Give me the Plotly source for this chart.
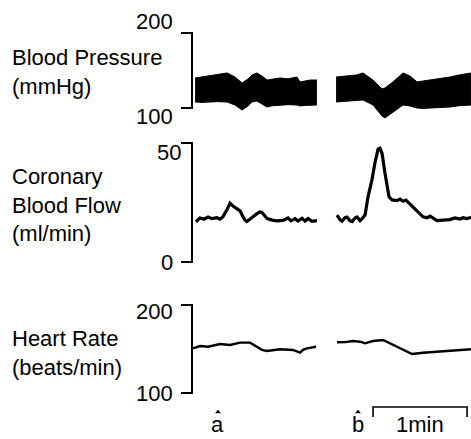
import plotly.graph_objects as go

W, H = 471, 439

# ---------------- data (time in seconds) ----------------
bp_t1 = [2.6, 7.0, 12.1, 17.0, 23.0, 28.1, 32.6, 36.4, 38.9, 42.1, 45.3, 48.5, 52.0, 56.8, 62.0, 67.7, 69.6, 73.0, 76.0, 80.4]
bp_hi1 = [140.0, 141.5, 142.7, 144.0, 146.7, 141.3, 133.3, 138.7, 144.0, 146.7, 142.7, 137.3, 138.5, 140.0, 139.0, 141.3, 134.7, 136.0, 137.3, 137.3]
bp_lo1 = [108.0, 107.5, 108.0, 108.5, 108.0, 104.0, 97.3, 102.7, 108.0, 109.3, 105.3, 101.3, 103.0, 104.0, 104.5, 104.0, 102.7, 103.5, 104.0, 104.0]

bp_t2 = [92.6, 97.0, 101.5, 105.5, 109.8, 116.2, 121.9, 123.8, 128.9, 135.3, 139.8, 144.3, 148.0, 152.6, 158.0, 165.3, 171.0, 178.7]
bp_hi2 = [141.3, 142.0, 142.7, 144.0, 146.7, 137.3, 125.3, 126.7, 134.7, 146.7, 142.7, 134.7, 136.0, 137.3, 139.5, 141.3, 144.0, 146.7]
bp_lo2 = [108.0, 108.5, 109.3, 110.0, 110.7, 104.0, 89.3, 86.7, 94.7, 104.0, 102.7, 100.0, 99.5, 100.0, 101.0, 101.3, 103.0, 104.0]

cbf_t1 = [3.2, 5.7, 8.3, 10.9, 13.4, 16.6, 18.5, 20.4, 23.0, 24.9, 26.8, 28.1, 30.0, 31.3, 33.2, 34.5, 35.7, 37.7, 39.6,
          42.1, 44.0, 45.3, 47.2, 48.5, 51.7, 54.9, 58.7, 61.9, 63.8, 66.4, 68.3, 70.9, 72.8, 74.7, 77.2, 80.4]
cbf_v1 = [16.9, 18.5, 18.0, 18.9, 18.2, 18.6, 18.0, 19.0, 22.0, 24.7, 23.5, 23.0, 22.2, 21.5, 19.0, 17.6, 17.0, 18.2, 19.0,
          20.3, 21.0, 20.8, 19.5, 18.3, 17.6, 17.3, 17.5, 18.5, 17.3, 18.2, 17.2, 18.4, 17.2, 18.3, 17.1, 17.4]

cbf_t2 = [93.2, 95.1, 96.4, 98.3, 99.6, 101.5, 102.8, 104.7, 106.0, 107.9, 109.1, 111.1, 113.0, 115.5, 117.4, 119.4, 120.6,
          121.9, 123.8, 126.4, 128.3, 131.5, 133.4, 135.3, 137.2, 139.8, 144.3, 148.1, 150.7, 152.6, 157.0, 162.1, 165.3,
          168.5, 171.7, 173.6, 176.2, 178.7]
cbf_v2 = [19.7, 17.8, 17.2, 18.6, 18.9, 17.3, 17.0, 18.5, 18.9, 17.4, 18.1, 19.7, 27.4, 34.5, 41.6, 47.4, 47.8,
          45.8, 37.4, 27.4, 26.1, 25.8, 26.4, 25.5, 26.0, 24.4, 21.8, 19.0, 18.6, 19.3, 17.4, 17.6, 17.8,
          18.5, 18.0, 18.6, 18.2, 18.8]

hr_t1 = [1.3, 5.7, 10.9, 14.7, 18.5, 24.9, 31.3, 37.7, 42.1, 45.3, 48.5, 56.8, 65.1, 69.6, 71.5, 74.0, 79.8]
hr_v1 = [150.8, 153.4, 152.6, 154.0, 155.7, 154.5, 157.2, 157.2, 152.6, 149.0, 147.7, 149.7, 148.9, 145.8, 149.0, 150.8, 152.6]

hr_t2 = [93.2, 98.3, 103.4, 107.9, 111.1, 116.2, 122.6, 128.9, 135.3, 141.1, 148.1, 160.9, 173.6, 178.7]
hr_v2 = [157.6, 157.8, 159.1, 158.3, 156.5, 159.1, 160.2, 154.5, 148.9, 144.3, 145.8, 147.7, 148.9, 149.7]

panel_titles = ["Blood Pressure<br>(mmHg)", "Coronary<br>Blood Flow<br>(ml/min)", "Heart Rate<br>(beats/min)"]
bp_ticks = [200, 100]
cbf_ticks = [50, 0]
hr_ticks = [200, 100]
event_labels = ["a", "b"]
event_times = [17.2, 106.6]
scale_bar = [116.2, 176.2]
scale_label = "1min"

# ---------------- figure ----------------
FONT = "Liberation Sans, Arial, Helvetica, sans-serif"
fig = go.Figure()

def band(t, lo, hi, xa, ya):
    fig.add_trace(go.Scatter(x=t, y=lo, mode="lines", line=dict(color="black", width=1),
                             xaxis=xa, yaxis=ya, hoverinfo="skip", showlegend=False))
    fig.add_trace(go.Scatter(x=t, y=hi, mode="lines", line=dict(color="black", width=1),
                             fill="tonexty", fillcolor="black",
                             xaxis=xa, yaxis=ya, hoverinfo="skip", showlegend=False))

band(bp_t1, bp_lo1, bp_hi1, "x", "y")
band(bp_t2, bp_lo2, bp_hi2, "x", "y")

for t, v in [(cbf_t1, cbf_v1), (cbf_t2, cbf_v2)]:
    fig.add_trace(go.Scatter(x=t, y=v, mode="lines", line=dict(color="black", width=3.2),
                             xaxis="x2", yaxis="y2", hoverinfo="skip", showlegend=False))
for t, v in [(hr_t1, hr_v1), (hr_t2, hr_v2)]:
    fig.add_trace(go.Scatter(x=t, y=v, mode="lines", line=dict(color="black", width=2.4),
                             xaxis="x3", yaxis="y3", hoverinfo="skip", showlegend=False))

def dom(top_px, bot_px):
    return [1 - bot_px / H, 1 - top_px / H]

def yrange(v_top, py_top, v_bot, py_bot, dtop, dbot):
    k = (v_top - v_bot) / (py_bot - py_top)  # units per px
    return [v_bot - (dbot - py_bot) * k, v_top + (py_top - dtop) * k]

x_left_px = 191
x_range = [0, (W - x_left_px) * 60 / 94]
xdom = [x_left_px / W, 1]

panels = [
    # (axis suffix, ticks, px top, px bottom, domain top, domain bottom)
    ("", bp_ticks, 33, 108, 10, 135),
    ("2", cbf_ticks, 143, 262, 135, 275),
    ("3", hr_ticks, 305, 393, 295, 425),
]

layout_axes = {}
for suf, ticks, pt, pb, dt, db in panels:
    layout_axes["xaxis" + suf] = dict(domain=xdom, range=x_range, visible=False, fixedrange=True)
    layout_axes["yaxis" + suf] = dict(domain=dom(dt, db), range=yrange(ticks[0], pt, ticks[1], pb, dt, db),
                                      visible=False, fixedrange=True)

# event markers (small arrowheads) below the heart-rate trace, placed via the HR axis scale
hr_k = (hr_ticks[0] - hr_ticks[1]) / (393 - 305)
marker_val = hr_ticks[1] - (412 - 393) * hr_k
fig.add_trace(go.Scatter(x=event_times, y=[marker_val] * len(event_times), mode="markers",
                         marker=dict(symbol="triangle-up", size=5, color="black"),
                         cliponaxis=False, xaxis="x3", yaxis="y3", hoverinfo="skip", showlegend=False))

shapes = []
annotations = []
brk_x0 = 181 / W
brk_x1 = 192 / W
label_x = 175 / W
label_shift = {  # vertical offsets of the tick labels (px), per panel
    "": (11, -9), "2": (-9, 0), "3": (-6, 0)}
label_xoff = {"": (0, 0), "2": (8, 0), "3": (0, 0)}
for suf, ticks, pt, pb, dt, db in panels:
    yref = "y" + suf
    shapes.append(dict(type="path", xref="paper", yref=yref,
                       path=f"M {brk_x0},{ticks[0]} L {brk_x1},{ticks[0]} L {brk_x1},{ticks[1]} L {brk_x0},{ticks[1]}",
                       line=dict(color="black", width=2)))
    for i, tv in enumerate(ticks):
        annotations.append(dict(x=label_x, y=tv, xref="paper", yref=yref, text=str(tv), showarrow=False,
                                xanchor="right", yanchor="middle", yshift=label_shift[suf][i],
                                xshift=label_xoff[suf][i],
                                font=dict(family=FONT, size=22, color="black")))

title_y = [72, 205, 353]
for txt, py in zip(panel_titles, title_y):
    annotations.append(dict(x=10 / W, y=1 - py / H, xref="paper", yref="paper", text=txt, showarrow=False,
                            xanchor="left", yanchor="middle", align="left",
                            font=dict(family=FONT, size=22, color="black")))

for lab, t in zip(event_labels, event_times):
    annotations.append(dict(x=t, y=0, xref="x3", yref="paper", text=lab, showarrow=False,
                            xanchor="center", yanchor="bottom", yshift=0,
                            font=dict(family=FONT, size=22, color="black")))

sb_y0 = 1 - 407 / H
sb_y1 = 1 - 417 / H
shapes.append(dict(type="path", xref="x3", yref="paper",
                   path=f"M {scale_bar[0]},{sb_y1} L {scale_bar[0]},{sb_y0} L {scale_bar[1]},{sb_y0} L {scale_bar[1]},{sb_y1}",
                   line=dict(color="black", width=1.6)))
annotations.append(dict(x=(scale_bar[0] + scale_bar[1]) / 2, y=0, xref="x3", yref="paper",
                        text=scale_label, showarrow=False, xanchor="center", yanchor="bottom", yshift=0,
                        font=dict(family=FONT, size=22, color="black")))

fig.update_layout(width=W, height=H, margin=dict(l=0, r=0, t=0, b=0),
                  paper_bgcolor="white", plot_bgcolor="white",
                  shapes=shapes, annotations=annotations, showlegend=False, **layout_axes)

fig.write_html("out.html", config={"displayModeBar": False})
